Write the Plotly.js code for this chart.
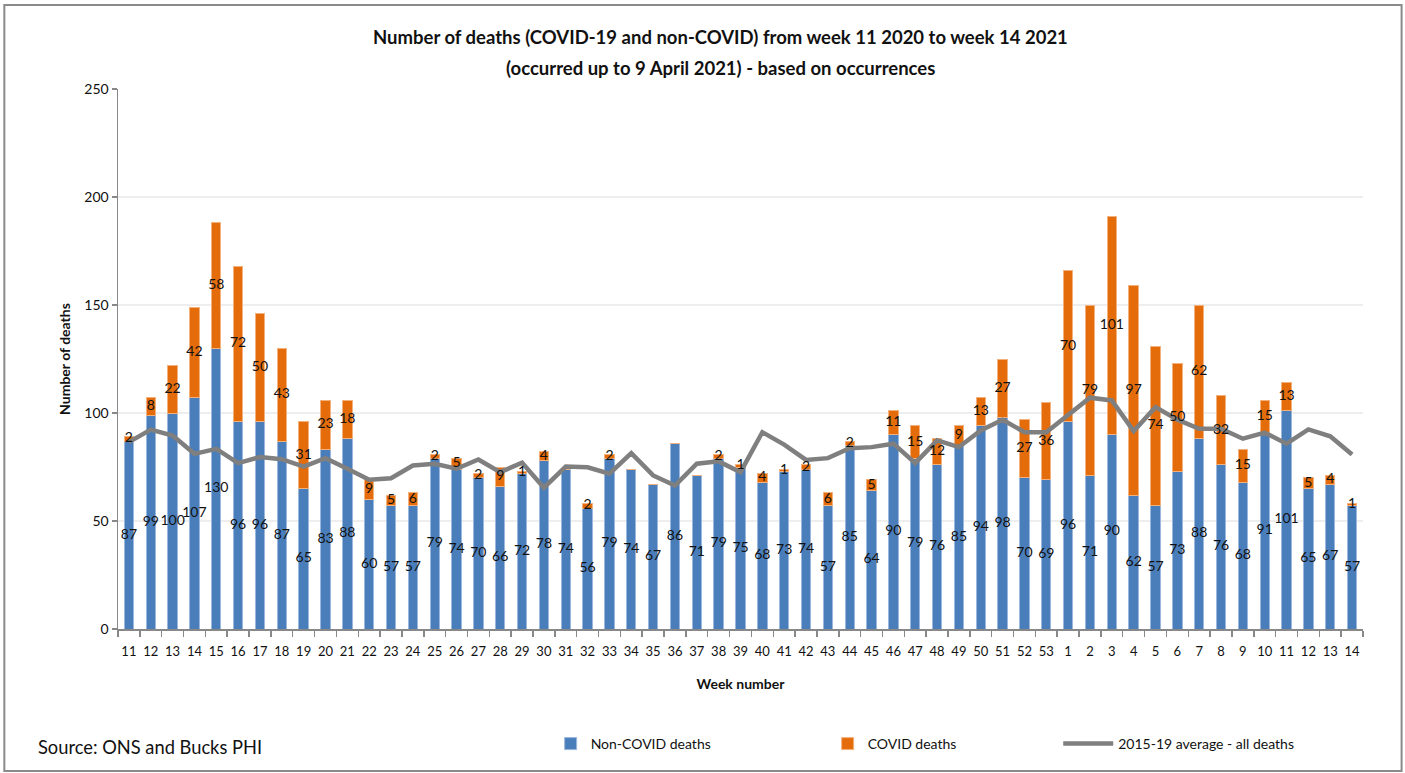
<!DOCTYPE html>
<html>
<head>
<meta charset="utf-8">
<script src="https://cdn.plot.ly/plotly-3.0.1.min.js"></script>
<style>
  html, body { margin: 0; padding: 0; background: #ffffff; }
  #chart { width: 1405px; height: 773px; }
</style>
</head>
<body>
<div id="chart"></div>
<script>
// ---- Data ----
const weeks = ['11','12','13','14','15','16','17','18','19','20','21','22','23','24','25','26','27','28','29','30',
  '31','32','33','34','35','36','37','38','39','40','41','42','43','44','45','46','47','48','49','50','51','52','53',
  '1','2','3','4','5','6','7','8','9','10','11','12','13','14'];

const nonCovidDeaths = [87,99,100,107,130,96,96,87,65,83,88,60,57,57,79,74,70,66,72,78,
  74,56,79,74,67,86,71,79,75,68,73,74,57,85,64,90,79,76,85,94,98,70,69,
  96,71,90,62,57,73,88,76,68,91,101,65,67,57];

const covidDeaths = [2,8,22,42,58,72,50,43,31,23,18,9,5,6,2,5,2,9,1,4,
  0,2,2,0,0,0,0,2,1,4,1,2,6,2,5,11,15,12,9,13,27,27,36,
  70,79,101,97,74,50,62,32,15,15,13,5,4,1];

const average2015to19 = [86.5,92.3,89.6,81.1,83.4,76.8,79.6,78.6,75.2,79.1,74.2,69.1,69.8,75.7,76.5,74.2,78.5,72.6,77.0,65.4,
  75.2,74.9,71.9,81.4,71.1,66.4,76.5,77.6,72.6,91.1,85.4,78.3,79.1,83.7,84.2,85.8,76.8,87.3,84.2,91.9,96.9,91.1,91.1,
  98.9,107.1,105.8,91.6,102.7,96.9,92.7,92.7,88.1,90.9,85.8,92.4,89.2,80.8];

// ---- Build traces ----
const xIdx = weeks.map((_, i) => i);
const FONT = 'Lato, "Open Sans", sans-serif';
const BLUE = '#4a7ebb';
const ORANGE = '#e46c0a';
const GREY = '#7f7f7f';

const nonCovidTrace = {
  type: 'bar', name: 'Non-COVID deaths', x: xIdx, y: nonCovidDeaths,
  marker: { color: BLUE, line: { color: '#9bb7dd', width: 1 } },
  legend: 'legend', hoverinfo: 'y+name'
};
const covidTrace = {
  type: 'bar', name: 'COVID deaths', x: xIdx, y: covidDeaths,
  marker: { color: ORANGE, line: { color: '#f3b27d', width: 1 } },
  legend: 'legend2', hoverinfo: 'y+name'
};
const avgTrace = {
  type: 'scatter', mode: 'lines', name: '2015-19 average - all deaths', x: xIdx, y: average2015to19,
  line: { color: GREY, width: 4.5 }, legend: 'legend3', hoverinfo: 'y+name'
};

// Data labels centred on each segment
const nonCovidLabels = {
  type: 'scatter', mode: 'text', showlegend: false, hoverinfo: 'skip',
  x: xIdx, y: nonCovidDeaths.map(v => v / 2), text: nonCovidDeaths.map(String),
  textposition: 'middle center', textfont: { family: FONT, size: 14, color: '#111' }
};
const covX = [], covY = [], covT = [];
covidDeaths.forEach((v, i) => {
  if (v > 0) { covX.push(i); covY.push(nonCovidDeaths[i] + v / 2); covT.push(String(v)); }
});
const covidLabels = {
  type: 'scatter', mode: 'text', showlegend: false, hoverinfo: 'skip',
  x: covX, y: covY, text: covT,
  textposition: 'middle center', textfont: { family: FONT, size: 14, color: '#111' }
};

const legendCommon = {
  orientation: 'h', yanchor: 'middle', xanchor: 'left', y: -0.213,
  bgcolor: 'rgba(0,0,0,0)', font: { family: FONT, size: 14, color: '#111' }
};

const layout = {
  width: 1405, height: 773,
  margin: { l: 118, r: 42, t: 89, b: 144 },
  paper_bgcolor: '#ffffff', plot_bgcolor: '#ffffff',
  font: { family: FONT, size: 14, color: '#111' },
  barmode: 'stack', bargap: 0.57,
  showlegend: true,
  legend: Object.assign({}, legendCommon, { x: 0.3475 }),
  legend2: Object.assign({}, legendCommon, { x: 0.570 }),
  legend3: Object.assign({}, legendCommon, { x: 0.7552, itemwidth: 50 }),
  xaxis: {
    range: [-0.5, weeks.length - 0.5],
    tickmode: 'array', tickvals: xIdx, ticktext: weeks,
    ticks: '', ticklabelstandoff: 10,
    tickfont: { family: FONT, size: 13, color: '#111' },
    minor: { tick0: -0.5, dtick: 1, ticks: 'outside', ticklen: 6, tickcolor: '#888', tickwidth: 1.5, showgrid: false },
    showline: true, linecolor: '#888', linewidth: 1.5,
    showgrid: false, zeroline: false, fixedrange: true,
    title: { text: '<b>Week number</b>', font: { family: FONT, size: 14, color: '#111' }, standoff: 21 }
  },
  yaxis: {
    range: [0, 250], tickmode: 'linear', tick0: 0, dtick: 50,
    ticks: 'outside', ticklen: 5, tickcolor: '#888', tickwidth: 1.5,
    tickfont: { family: FONT, size: 14, color: '#111' },
    showline: true, linecolor: '#888', linewidth: 1.5,
    showgrid: true, gridcolor: '#eeeeee', gridwidth: 1.5, zeroline: false, fixedrange: true,
    title: { text: '<b>Number of deaths</b>', font: { family: FONT, size: 14, color: '#111' }, standoff: 10 }
  },
  annotations: [
    { xref: 'paper', yref: 'paper', x: 0.4836, y: 1.0963, xanchor: 'center', yanchor: 'middle', showarrow: false,
      text: '<b>Number of deaths (COVID-19 and non-COVID) from week 11 2020 to week 14 2021</b>',
      font: { family: FONT, size: 18.5, color: '#111' } },
    { xref: 'paper', yref: 'paper', x: 0.4836, y: 1.0389, xanchor: 'center', yanchor: 'middle', showarrow: false,
      text: '<b>(occurred up to 9 April 2021) - based on occurrences</b>',
      font: { family: FONT, size: 18.5, color: '#111' } },
    { xref: 'paper', yref: 'paper', x: -0.0657, y: -0.2185, xanchor: 'left', yanchor: 'middle', showarrow: false,
      text: 'Source: ONS and Bucks PHI', font: { family: FONT, size: 18.3, color: '#111' } }
  ],
  shapes: [
    { type: 'rect', xref: 'paper', yref: 'paper', x0: -0.0913, x1: 1.031, y0: -0.263, y1: 1.1556,
      line: { color: '#8a8a8a', width: 2 }, fillcolor: 'rgba(0,0,0,0)', layer: 'below' }
  ]
};

Plotly.newPlot('chart', [nonCovidTrace, covidTrace, avgTrace, nonCovidLabels, covidLabels], layout,
  { staticPlot: true, displayModeBar: false });
</script>
</body>
</html>
